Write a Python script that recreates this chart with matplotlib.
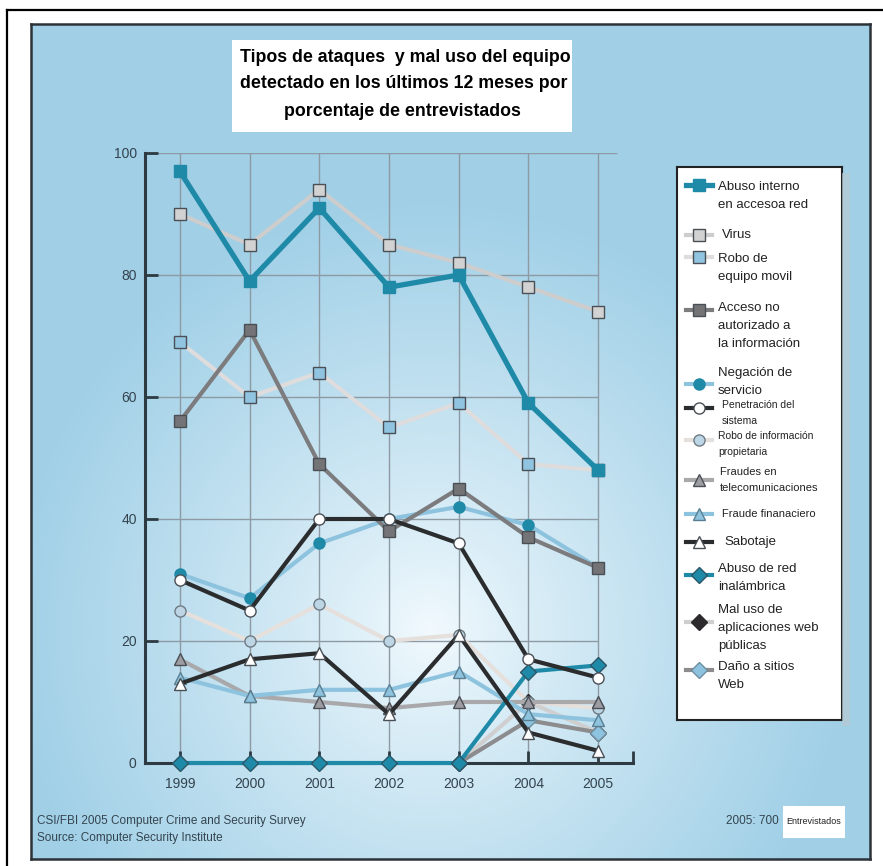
import numpy as np
import matplotlib
matplotlib.use("Agg")
import matplotlib.pyplot as plt
from matplotlib.patches import Rectangle
from matplotlib.lines import Line2D

# CSI/FBI 2005 survey: % of respondents detecting each attack type
years = [1999, 2000, 2001, 2002, 2003, 2004, 2005]
abuso_interno = [97, 79, 91, 78, 80, 59, 48]
virus = [90, 85, 94, 85, 82, 78, 74]
robo_equipo = [69, 60, 64, 55, 59, 49, 48]
acceso_no_aut = [56, 71, 49, 38, 45, 37, 32]
negacion_servicio = [31, 27, 36, 40, 42, 39, 32]
penetracion = [30, 25, 40, 40, 36, 17, 14]
robo_info = [25, 20, 26, 20, 21, 10, 9]
fraude_telecom = [17, 11, 10, 9, 10, 10, 10]
fraude_financiero = [14, 11, 12, 12, 15, 8, 7]
sabotaje = [13, 17, 18, 8, 21, 5, 2]
red_inalambrica = [0, 0, 0, 0, 0, 15, 16]
mal_uso_web = [np.nan, np.nan, np.nan, np.nan, 0, 10, 5]
dano_web = [np.nan, np.nan, np.nan, np.nan, 0, 7, 5]

labels = ['Abuso interno\nen accesoa red', 'Virus', 'Robo de\nequipo movil',
          'Acceso no\nautorizado a\nla información', 'Negación de\nservicio',
          'Penetración del\nsistema', 'Robo de información\npropietaria',
          'Fraudes en\ntelecomunicaciones', 'Fraude finanaciero', 'Sabotaje',
          'Abuso de red\ninalámbrica', 'Mal uso de\naplicaciones web\npúblicas',
          'Daño a sitios\nWeb']
series = [abuso_interno, virus, robo_equipo, acceso_no_aut, negacion_servicio,
          penetracion, robo_info, fraude_telecom, fraude_financiero, sabotaje,
          red_inalambrica, mal_uso_web, dano_web]

teal = '#1f8aa8'
ltblue = '#8dc3de'
edge = '#4a4f55'
# (line colour, line width, marker, marker face, marker edge)
styles = [
    (teal, 3.8, 's', teal, teal),
    ('#cdcdcd', 3.0, 's', '#d2d2d2', edge),
    ('#dedcdc', 3.0, 's', '#90c4e0', edge),
    ('#7c7c7e', 3.0, 's', '#747476', edge),
    (ltblue, 3.0, 'o', teal, teal),
    ('#2a2c2e', 3.0, 'o', 'white', edge),
    ('#e6e0dd', 3.0, 'o', '#bcd6e6', '#6f7a82'),
    ('#a9a9ab', 3.0, '^', '#9d9ca2', edge),
    (ltblue, 3.0, '^', ltblue, '#5a7f92'),
    ('#2a2c2e', 3.0, '^', 'white', edge),
    (teal, 3.0, 'D', teal, '#2c5566'),
    ('#cfcfcf', 3.0, 'D', '#2c2a2c', '#2c2a2c'),
    ('#8c8c8e', 3.0, 'D', ltblue, '#6f8fa0'),
]
msizes = [8, 8, 8, 8, 8, 8, 8, 8.5, 8.5, 8.5, 8, 8, 8]
# the two new 2004 categories sit beneath the others
zorders = [5, 4, 3, 4.5, 4, 5, 3, 3.5, 3.6, 5, 4.2, 2, 2.5]

W, H = 883, 866
fig = plt.figure(figsize=(W / 100, H / 100), dpi=100)


def fbox(x0, y0, x1, y1):
    # pixel box (top-left origin) -> figure rect
    return [x0 / W, 1 - y1 / H, (x1 - x0) / W, (y1 - y0) / H]


# outer frame
fig.add_artist(Line2D([7 / W, 7 / W], [0, 1 - 10 / H], color='black', lw=1.6))
fig.add_artist(Line2D([7 / W, 1], [1 - 10 / H, 1 - 10 / H], color='black', lw=1.6))

# blue panel with a soft light centre
bg = fig.add_axes(fbox(31, 24, 870, 859))
gx, gy = np.meshgrid(np.linspace(31, 870, 300), np.linspace(24, 859, 300))
d = np.sqrt(((gx - 430) / 420) ** 2 + ((gy - 630) / 430) ** 2)
t = np.clip(d, 0, 1) ** 0.85
c_in = np.array([0.95, 0.98, 0.995])
c_out = np.array([0.63, 0.815, 0.905])
img = c_in[None, None, :] * (1 - t[..., None]) + c_out[None, None, :] * t[..., None]
bg.imshow(img, extent=[0, 1, 0, 1], aspect='auto', origin='upper')
bg.set_xlim(0, 1)
bg.set_ylim(0, 1)
bg.set_xticks([])
bg.set_yticks([])
for s in bg.spines.values():
    s.set_color('#2b3338')
    s.set_linewidth(1.8)

# title box
fig.add_artist(Rectangle((232 / W, 1 - 132 / H), 340 / W, 92 / H,
                         transform=fig.transFigure, facecolor='white',
                         edgecolor='none'))
tfont = dict(family='Liberation Sans', weight='bold', size=12.8,
             color='black', va='center', ha='left')
fig.text(240 / W, 1 - 57 / H, 'Tipos de ataques  y mal uso del equipo', **tfont)
fig.text(240 / W, 1 - 84 / H, 'detectado en los últimos 12 meses por', **tfont)
fig.text(284 / W, 1 - 111 / H, 'porcentaje de entrevistados', **tfont)

# main chart
ax = fig.add_axes(fbox(145, 153, 633, 763))
ax.set_facecolor('none')
ax.set_xlim(1998.5, 2005.5)
ax.set_ylim(0, 100)
gridc = '#8e9aa3'
ax.vlines(years, 0, 100, color=gridc, lw=1.0, zorder=1)
ax.hlines([20, 40, 60, 80], 1998.5, years[-1], color=gridc, lw=1.0, zorder=1)
ax.hlines([100], 1998.5, years[-1] + 0.27, color=gridc, lw=1.0, zorder=1)

for vals, (lc, lw, mk, mf, me), ms, z in zip(series, styles, msizes, zorders):
    ax.plot(years, vals, color=lc, lw=lw, marker=mk, markersize=ms,
            markerfacecolor=mf, markeredgecolor=me, markeredgewidth=1.0,
            zorder=z, clip_on=False)

for side in ['top', 'right']:
    ax.spines[side].set_visible(False)
for side in ['left', 'bottom']:
    ax.spines[side].set_color('#2e3a42')
    ax.spines[side].set_linewidth(2.2)
ax.set_yticks([0, 20, 40, 60, 80, 100])
ax.set_xticks(years)
ax.set_xticks([2005.5], minor=True)
ax.tick_params(axis='both', which='both', direction='in', length=9, width=2.0,
               color='#2e3a42', labelcolor='#34444f')
ax.tick_params(axis='y', pad=6)
ax.tick_params(axis='x', pad=10)
for lab in ax.get_xticklabels() + ax.get_yticklabels():
    lab.set_family('Liberation Sans')
    lab.set_fontsize(10)

# legend panel drawn by hand
fig.add_artist(Rectangle((842 / W, 1 - 726 / H), 8 / W, 553 / H,
                         transform=fig.transFigure, facecolor='#b9c9d2',
                         edgecolor='none', alpha=0.7))
lg = fig.add_axes(fbox(677, 167, 842, 720))
lg.set_xlim(677, 842)
lg.set_ylim(720, 167)
lg.set_xticks([])
lg.set_yticks([])
lg.set_facecolor('white')
for s in lg.spines.values():
    s.set_color('#222')
    s.set_linewidth(1.5)

leg_marker_y = [185, 235, 257, 310, 384, 408, 440, 480, 514, 542, 575, 622, 670]
leg_text_y = [187, 235, 259, 308, 373, 405, 436, 472, 514, 542, 569, 610, 667]
leg_text_x = [718, 722, 718, 718, 718, 722, 718, 720, 722, 724, 718, 718, 718]
leg_size = [9.5, 9.5, 9.5, 9.5, 9.5, 7.5, 7.5, 8, 8, 9.5, 9.5, 9.5, 9.5]
for lab, (lc, lw, mk, mf, me), my, ty, tx, fs in zip(
        labels, styles, leg_marker_y, leg_text_y, leg_text_x, leg_size):
    lg.plot([686, 712], [my, my], color=lc, lw=lw)
    lg.plot([699], [my], marker=mk, markersize=8, markerfacecolor=mf,
            markeredgecolor=me, markeredgewidth=1.0)
    step = 18 if fs > 9 else 16
    for i, line in enumerate(lab.split('\n')):
        lg.text(tx, ty + i * step, line, fontsize=fs, family='Liberation Sans',
                color='#222', va='center', ha='left')

# source notes
nfont = dict(family='Liberation Sans', size=8.5, color='#34444f',
             va='center')
fig.text(37 / W, 1 - 821 / H, 'CSI/FBI 2005 Computer Crime and Security Survey',
         ha='left', **nfont)
fig.text(37 / W, 1 - 838 / H, 'Source: Computer Security Institute',
         ha='left', **nfont)
fig.text(779 / W, 1 - 821 / H, '2005: 700', ha='right', **nfont)
fig.add_artist(Rectangle((783 / W, 1 - 838 / H), 62 / W, 32 / H,
                         transform=fig.transFigure, facecolor='white',
                         edgecolor='none'))
fig.text(814 / W, 1 - 822 / H, 'Entrevistados', ha='center', va='center',
         family='Liberation Sans', size=6.5, color='#222')

fig.savefig('out.png', dpi=100)
